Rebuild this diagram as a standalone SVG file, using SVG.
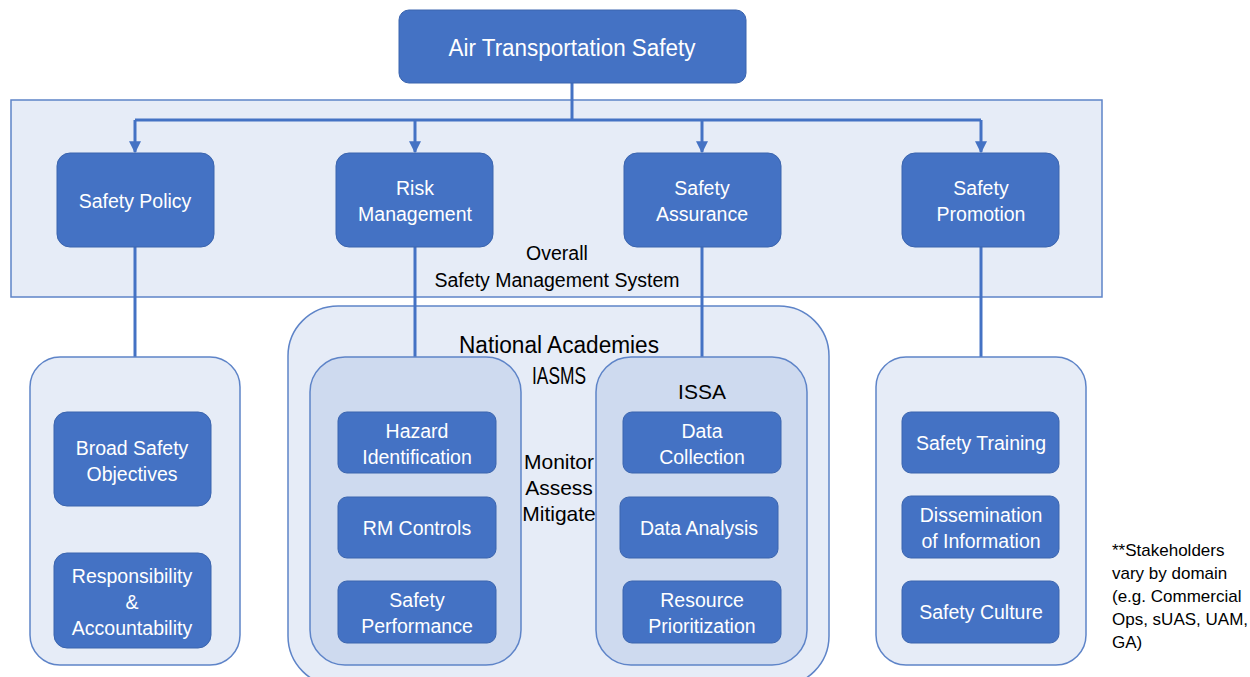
<svg xmlns="http://www.w3.org/2000/svg" width="1250" height="677" viewBox="0 0 1250 677">
<defs>
<style>
.box{fill:#4472C4;stroke:#3A64AE;stroke-width:1}
.cont{fill:#E6ECF7;stroke:#5E84C8;stroke-width:1.5}
.inner{fill:#CEDAEF;stroke:#5E84C8;stroke-width:1.5}
.wt{fill:#FFFFFF;font-family:"Liberation Sans",Arial,sans-serif;font-size:19.5px;text-anchor:middle}
.dt{fill:#000000;font-family:"Liberation Sans",Arial,sans-serif;font-size:19.5px;text-anchor:middle}
.big{font-size:23px}
.mid{font-size:21px}
.note{fill:#000000;font-family:"Liberation Sans",Arial,sans-serif;font-size:17px}
.conn{fill:none;stroke:#4472C4;stroke-width:3}
</style>
<marker id="arr" viewBox="0 0 10 10" refX="9" refY="5" markerWidth="4" markerHeight="4" orient="auto">
<path d="M0,0 L10,5 L0,10 z" fill="#4472C4"/>
</marker>
</defs>
<rect width="1250" height="677" fill="#FFFFFF"/>

<g id="sms">
<rect x="11" y="100" width="1091" height="197" class="cont"/>
<text class="dt" x="557" y="260">Overall</text>
<text class="dt" x="557" y="287">Safety Management System</text>
</g>

<g id="national-academies">
<rect x="288" y="306" width="541" height="380" rx="50" class="cont"/>
<text class="dt big" x="559" y="353" textLength="200" lengthAdjust="spacingAndGlyphs">National Academies</text>
<text class="dt big" x="559" y="384" textLength="54" lengthAdjust="spacingAndGlyphs">IASMS</text>
<text class="dt mid" x="559" y="469">Monitor</text>
<text class="dt mid" x="559" y="495">Assess</text>
<text class="dt mid" x="559" y="521">Mitigate</text>
</g>

<g id="connectors">
<path class="conn" d="M572,83 V120"/>
<path class="conn" d="M135,120 H981"/>
<path class="conn" d="M135,120 V152" marker-end="url(#arr)"/>
<path class="conn" d="M415,120 V152" marker-end="url(#arr)"/>
<path class="conn" d="M702,120 V152" marker-end="url(#arr)"/>
<path class="conn" d="M981,120 V152" marker-end="url(#arr)"/>
<path class="conn" d="M135,247 V357"/>
<path class="conn" d="M415,247 V357"/>
<path class="conn" d="M702,247 V357"/>
<path class="conn" d="M981,247 V357"/>
</g>

<g id="air-transportation-safety">
<rect x="399" y="10" width="347" height="73" rx="10" class="box"/>
<text class="wt big" x="572" y="56" textLength="247" lengthAdjust="spacingAndGlyphs">Air Transportation Safety</text>
</g>

<g id="safety-policy">
<rect x="57" y="153" width="157" height="94" rx="13" class="box"/>
<text class="wt" x="135" y="208">Safety Policy</text>
</g>
<g id="risk-management">
<rect x="336" y="153" width="157" height="94" rx="13" class="box"/>
<text class="wt" x="415" y="195">Risk</text>
<text class="wt" x="415" y="221">Management</text>
</g>
<g id="safety-assurance">
<rect x="624" y="153" width="157" height="94" rx="13" class="box"/>
<text class="wt" x="702" y="195">Safety</text>
<text class="wt" x="702" y="221">Assurance</text>
</g>
<g id="safety-promotion">
<rect x="902" y="153" width="157" height="94" rx="13" class="box"/>
<text class="wt" x="981" y="195">Safety</text>
<text class="wt" x="981" y="221">Promotion</text>
</g>

<g id="policy-group">
<rect x="30" y="357" width="210" height="308" rx="30" class="cont"/>
</g>
<g id="broad-safety-objectives">
<rect x="54" y="412" width="157" height="94" rx="13" class="box"/>
<text class="wt" x="132" y="455">Broad Safety</text>
<text class="wt" x="132" y="481">Objectives</text>
</g>
<g id="responsibility-accountability">
<rect x="54" y="553" width="157" height="95" rx="13" class="box"/>
<text class="wt" x="132" y="583">Responsibility</text>
<text class="wt" x="132" y="609">&amp;</text>
<text class="wt" x="132" y="635">Accountability</text>
</g>

<g id="iasms">
<rect x="310" y="357" width="211" height="308" rx="35" class="inner"/>
</g>
<g id="hazard-identification">
<rect x="338" y="412" width="158" height="61" rx="9" class="box"/>
<text class="wt" x="417" y="438">Hazard</text>
<text class="wt" x="417" y="464">Identification</text>
</g>
<g id="rm-controls">
<rect x="338" y="497" width="158" height="61" rx="9" class="box"/>
<text class="wt" x="417" y="535">RM Controls</text>
</g>
<g id="safety-performance">
<rect x="338" y="581" width="158" height="62" rx="9" class="box"/>
<text class="wt" x="417" y="607">Safety</text>
<text class="wt" x="417" y="633">Performance</text>
</g>

<g id="issa">
<rect x="596" y="357" width="211" height="308" rx="35" class="inner"/>
<text class="dt mid" x="702" y="399">ISSA</text>
</g>
<g id="data-collection">
<rect x="623" y="412" width="158" height="61" rx="9" class="box"/>
<text class="wt" x="702" y="438">Data</text>
<text class="wt" x="702" y="464">Collection</text>
</g>
<g id="data-analysis">
<rect x="620" y="497" width="158" height="61" rx="9" class="box"/>
<text class="wt" x="699" y="535">Data Analysis</text>
</g>
<g id="resource-prioritization">
<rect x="623" y="581" width="158" height="62" rx="9" class="box"/>
<text class="wt" x="702" y="607">Resource</text>
<text class="wt" x="702" y="633">Prioritization</text>
</g>

<g id="promotion-group">
<rect x="876" y="357" width="210" height="308" rx="30" class="cont"/>
</g>
<g id="safety-training">
<rect x="902" y="412" width="157" height="61" rx="9" class="box"/>
<text class="wt" x="981" y="450">Safety Training</text>
</g>
<g id="dissemination">
<rect x="902" y="496" width="157" height="62" rx="9" class="box"/>
<text class="wt" x="981" y="522">Dissemination</text>
<text class="wt" x="981" y="548">of Information</text>
</g>
<g id="safety-culture">
<rect x="902" y="581" width="157" height="62" rx="9" class="box"/>
<text class="wt" x="981" y="619">Safety Culture</text>
</g>

<g id="footnote">
<text class="note" x="1112" y="556">**Stakeholders</text>
<text class="note" x="1112" y="579">vary by domain</text>
<text class="note" x="1112" y="602">(e.g. Commercial</text>
<text class="note" x="1112" y="625">Ops, sUAS, UAM,</text>
<text class="note" x="1112" y="648">GA)</text>
</g>
</svg>
